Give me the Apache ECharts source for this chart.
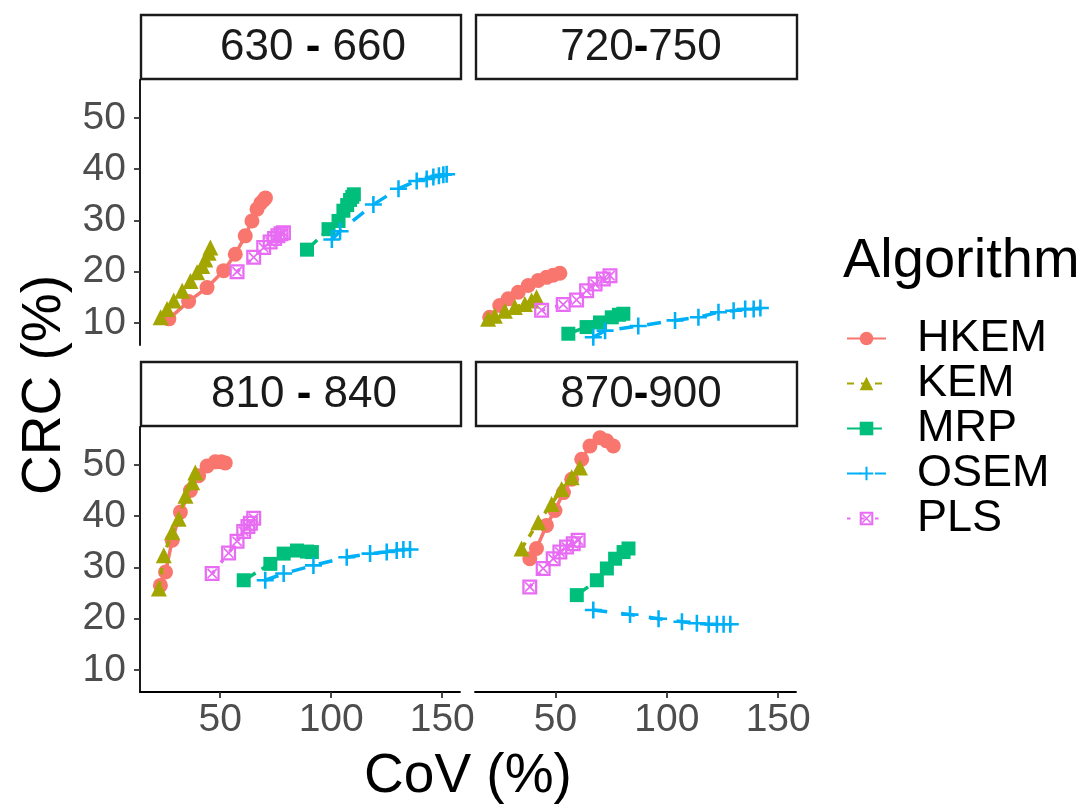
<!DOCTYPE html>
<html>
<head>
<meta charset="utf-8">
<script src="https://cdn.jsdelivr.net/npm/echarts@6/dist/echarts.min.js"></script>
<style>
  html, body { margin: 0; padding: 0; background: #ffffff; }
  #chart { width: 1091px; height: 809px; }
</style>
</head>
<body>
<div id="chart"></div>
<script>
// Facet labels (energy windows, keV) and algorithm names
const algorithms = ['HKEM', 'KEM', 'MRP', 'OSEM', 'PLS'];
const windows = ['630 - 660', '720-750', '810 - 840', '870-900'];
const covTicks = [50, 100, 150];
const crcTicks = [10, 20, 30, 40, 50];

// Each point: [CoV %, CRC %], one per iteration
const HKEM_630 = [[26.9,10.8],[35.8,14.2],[44.1,16.9],[51.6,20.2],[56.8,23.4],[61.3,27.0],[64.3,29.9],[66.6,32.2],[68.3,33.4],[69.6,34.0],[70.4,34.4]];
const KEM_630  = [[23.2,11.1],[26.1,12.7],[29.1,14.4],[32.9,16.3],[36.6,18.2],[39.6,19.9],[41.9,21.1],[43.3,22.4],[44.8,23.7],[45.6,24.7]];
const MRP_630  = [[89.1,24.3],[98.8,28.3],[103.3,29.9],[105.5,31.9],[107.2,33.0],[108.5,34.0],[109.5,34.6],[110.2,35.1]];
const OSEM_630 = [[100.3,26.3],[104.0,27.9],[119.0,33.1],[130.3,36.2],[138.5,37.7],[143.0,38.1],[146.0,38.5],[148.5,38.7],[150.5,38.9],[152.0,39.0]];
const PLS_630  = [[57.6,20.0],[65.1,22.8],[69.6,24.7],[72.5,25.8],[74.5,26.5],[76.0,27.0],[77.4,27.4],[78.5,27.6]];

const HKEM_720 = [[20.5,11.1],[25.0,13.4],[28.8,14.7],[33.3,16.0],[37.8,17.3],[42.3,18.3],[46.0,18.9],[49.0,19.3],[52.0,19.7]];
const KEM_720  = [[19.8,10.8],[22.8,11.4],[27.3,12.4],[31.8,13.1],[36.3,13.7],[39.3,14.4],[41.5,15.0]];
const MRP_720  = [[55.8,7.9],[64.0,9.2],[70.0,10.1],[75.3,11.1],[78.5,11.6],[80.5,11.8]];
const OSEM_720 = [[67.0,7.2],[72.3,8.5],[87.2,9.4],[103.7,10.5],[114.2,11.1],[123.2,12.1],[130.0,12.4],[135.2,12.7],[139.0,12.7],[142.0,12.9]];
const PLS_720  = [[43.8,12.5],[53.5,13.6],[59.5,14.5],[64.0,16.3],[67.8,17.6],[71.5,18.6],[74.5,19.2]];

const HKEM_810 = [[23.1,26.5],[25.4,29.1],[28.4,35.3],[32.1,40.8],[36.6,45.0],[40.3,47.9],[44.1,49.8],[47.8,50.6],[50.5,50.6],[52.3,50.4]];
const KEM_810  = [[22.4,25.9],[24.6,32.4],[28.4,36.9],[31.3,39.5],[34.4,44.0],[37.4,46.6],[38.8,48.5]];
const MRP_810  = [[60.6,27.5],[72.6,30.7],[78.6,32.7],[84.6,33.3],[89.1,33.1],[91.3,33.0]];
const OSEM_810 = [[70.3,27.5],[78.6,28.8],[92.0,30.4],[107.0,32.0],[117.5,32.7],[125.0,33.0],[129.5,33.3],[132.5,33.5],[135.5,33.5]];
const PLS_810  = [[46.4,28.8],[53.8,32.8],[57.6,35.1],[60.6,37.0],[62.5,38.0],[63.6,38.6],[65.1,39.6]];

const HKEM_870 = [[38.5,31.7],[41.5,33.7],[46.0,38.2],[49.8,41.1],[53.6,44.6],[57.3,47.2],[61.8,51.1],[65.5,53.7],[70.0,55.3],[73.0,54.7],[76.0,53.7]];
const KEM_870  = [[34.8,33.7],[42.3,38.8],[48.3,42.4],[52.8,45.3],[57.3,47.6],[61.0,49.5]];
const MRP_870  = [[59.6,24.6],[68.6,27.5],[73.1,29.8],[76.8,31.7],[80.6,33.0],[82.8,33.7]];
const OSEM_870 = [[67.0,21.7],[83.5,20.8],[96.3,20.0],[106.8,19.4],[113.5,19.1],[118.8,18.9],[122.5,18.9],[125.5,18.9],[128.5,18.9]];
const PLS_870  = [[38.5,26.2],[44.5,29.8],[49.0,31.7],[52.0,33.0],[55.0,34.0],[58.0,34.6],[60.2,35.3]];

const panelData = [
  [HKEM_630, KEM_630, MRP_630, OSEM_630, PLS_630],
  [HKEM_720, KEM_720, MRP_720, OSEM_720, PLS_720],
  [HKEM_810, KEM_810, MRP_810, OSEM_810, PLS_810],
  [HKEM_870, KEM_870, MRP_870, OSEM_870, PLS_870]
];

// Visual encoding per algorithm
const colors = ['#F8766D', '#A3A500', '#00BF7D', '#00B0F6', '#E76BF3'];
const PLUS = 'path://M-1.2,-8H1.2V-1.2H8V1.2H1.2V8H-1.2V1.2H-8V-1.2H-1.2Z';
const BOX_X = 'path://M0,0H20V20H0Z M3,3V17H17V3Z M3,4.6L4.6,3L17,15.4L15.4,17Z M15.4,3L17,4.6L4.6,17L3,15.4Z';
const symbols = ['circle', 'triangle', 'rect', PLUS, BOX_X];
const symbolSizes = [15, 16, 14, 17, 15];
const dashes = ['solid', [7, 7], [14, 7], [14, 14], [3.5, 10.5]];

// Panel geometry
const panels = [
  { left: 140, top: 80,  width: 320, height: 265 },
  { left: 475, top: 80,  width: 321, height: 265 },
  { left: 140, top: 427, width: 320, height: 265 },
  { left: 475, top: 427, width: 321, height: 265 }
];
const X_MIN = 13.9, X_MAX = 158.0;
const Y_MIN = 5.7,  Y_MAX = 57.4;
const FONT = 'Liberation Sans';

const grids = panels.map(p => ({ left: p.left, top: p.top, width: p.width, height: p.height }));

const xAxes = panels.map((p, i) => {
  const shown = i >= 2;
  return {
    type: 'value', gridIndex: i, min: X_MIN, max: X_MAX,
    splitLine: { show: false },
    axisLine: { show: shown, onZero: false, lineStyle: { color: '#000000', width: 1.8 } },
    axisTick: { show: shown, length: 6, customValues: covTicks, lineStyle: { color: '#333333', width: 1.8 } },
    axisLabel: { show: shown, customValues: covTicks, fontSize: 39, color: '#4D4D4D', margin: 9, fontFamily: FONT }
  };
});

const yAxes = panels.map((p, i) => {
  const shown = i % 2 === 0;
  return {
    type: 'value', gridIndex: i, min: Y_MIN, max: Y_MAX,
    splitLine: { show: false },
    axisLine: { show: shown, onZero: false, lineStyle: { color: '#000000', width: 1.8 } },
    axisTick: { show: shown, length: 6, customValues: crcTicks, lineStyle: { color: '#333333', width: 1.8 } },
    axisLabel: { show: shown, customValues: crcTicks, fontSize: 39, color: '#4D4D4D', margin: 14, fontFamily: FONT }
  };
});

const series = [];
panelData.forEach((group, pi) => {
  group.forEach((pts, ai) => {
    series.push({
      type: 'line',
      name: algorithms[ai],
      xAxisIndex: pi, yAxisIndex: pi,
      data: pts,
      symbol: symbols[ai],
      symbolSize: symbolSizes[ai],
      showSymbol: true,
      itemStyle: { color: colors[ai], borderWidth: 0 },
      lineStyle: { color: colors[ai], width: 3.5, type: dashes[ai] },
      emphasis: { disabled: true },
      z: 2 + ai
    });
  });
});

// Facet strips
const stripCenters = [313, 641, 304, 641];
const graphics = [];
panels.forEach((p, i) => {
  const top = i < 2 ? 15 : 362;
  graphics.push({
    type: 'rect',
    shape: { x: p.left + 1, y: top, width: p.width, height: 64 },
    style: { fill: '#ffffff', stroke: '#1A1A1A', lineWidth: 2.4 },
    silent: true
  });
  const parts = windows[i].split('-');
  graphics.push({
    type: 'text',
    x: stripCenters[i], y: top + 33,
    style: {
      text: '{n|' + parts[0] + '}{d|-}{n|' + parts[1] + '}',
      align: 'center', verticalAlign: 'middle',
      rich: {
        n: { fontSize: 44, fontFamily: FONT, fill: '#1A1A1A' },
        d: { fontSize: 44, fontFamily: FONT, fontWeight: 'bold', fill: '#000000' }
      }
    },
    silent: true
  });
});

// Axis titles and legend title
graphics.push({
  type: 'text', x: 468, y: 777,
  style: { text: 'CoV (%)', fontSize: 55, fontFamily: FONT, fill: '#000000', align: 'center', verticalAlign: 'middle' },
  silent: true
});
graphics.push({
  type: 'text', x: 45, y: 385, rotation: Math.PI / 2,
  style: { text: 'CRC (%)', fontSize: 55, fontFamily: FONT, fill: '#000000', align: 'center', verticalAlign: 'middle' },
  silent: true
});
graphics.push({
  type: 'text', x: 843, y: 262,
  style: { text: 'Algorithm', fontSize: 56, fontFamily: FONT, fill: '#000000', align: 'left', verticalAlign: 'middle' },
  silent: true
});

const chart = echarts.init(document.getElementById('chart'), null, { renderer: 'canvas' });
chart.setOption({
  animation: false,
  backgroundColor: '#ffffff',
  textStyle: { fontFamily: FONT },
  grid: grids,
  xAxis: xAxes,
  yAxis: yAxes,
  legend: {
    data: algorithms,
    orient: 'vertical',
    left: 841, top: 311,
    itemWidth: 39, itemHeight: 17, itemGap: 0,
    selectedMode: false,
    textStyle: { fontSize: 45, lineHeight: 45, color: '#000000', fontFamily: FONT, padding: [0, 0, 0, 26] }
  },
  series: series,
  graphic: graphics
});
</script>
</body>
</html>
